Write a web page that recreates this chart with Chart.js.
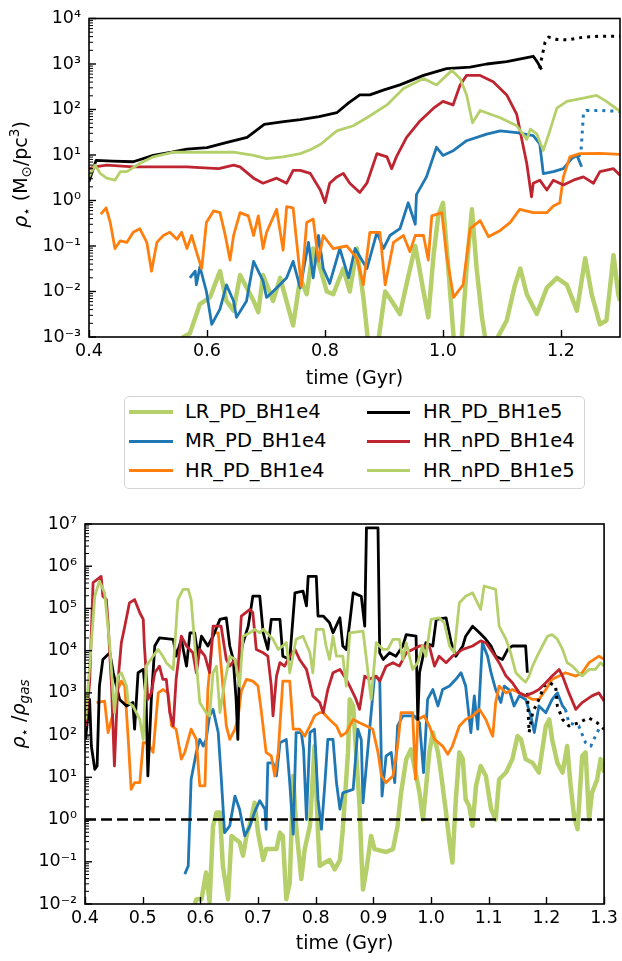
<!DOCTYPE html>
<html><head><meta charset="utf-8">
<script src="https://cdn.jsdelivr.net/npm/chart.js@4.4.0/dist/chart.umd.min.js"></script>
<style>
html,body{margin:0;padding:0;background:#fff;}
body{width:622px;height:961px;position:relative;overflow:hidden;font-family:"DejaVu Sans",sans-serif;}
#c1{position:absolute;left:0;top:0;}
#c2{position:absolute;left:0;top:500px;}
#legend{position:absolute;left:124px;top:396px;width:459px;height:91px;border:1px solid #d4d4d4;border-radius:5px;background:#fff;}
.sw{position:absolute;}
.lt{position:absolute;font-size:19.5px;line-height:24px;white-space:nowrap;color:#000;font-family:"DejaVu Sans",sans-serif;}
</style></head><body>
<canvas id="c1" width="622" height="400"></canvas>
<div id="legend"></div>
<canvas id="c2" width="622" height="461"></canvas>
<script>
// ---------------- axis ticks / labels ----------------
const topXTicks = [0.4, 0.6, 0.8, 1.0, 1.2];
const topXLabels = ['0.4', '0.6', '0.8', '1.0', '1.2'];
const topYTicks = [1e-3, 1e-2, 1e-1, 1e0, 1e1, 1e2, 1e3, 1e4];
const topYLabels = ['10⁻³', '10⁻²', '10⁻¹', '10⁰', '10¹', '10²', '10³', '10⁴'];
const botXTicks = [0.4, 0.5, 0.6, 0.7, 0.8, 0.9, 1.0, 1.1, 1.2, 1.3];
const botXLabels = ['0.4', '0.5', '0.6', '0.7', '0.8', '0.9', '1.0', '1.1', '1.2', '1.3'];
const botYTicks = [1e-2, 1e-1, 1e0, 1e1, 1e2, 1e3, 1e4, 1e5, 1e6, 1e7];
const botYLabels = ['10⁻²', '10⁻¹', '10⁰', '10¹', '10²', '10³', '10⁴', '10⁵', '10⁶', '10⁷'];
const xTitle = 'time (Gyr)';
const topYTitle = 'ρ⋆ (M⊙/pc³)';
const botYTitle = 'ρ⋆ /ρgas';

// ---------------- series names ----------------
const seriesNames = ['LR_PD_BH1e4', 'MR_PD_BH1e4', 'HR_PD_BH1e4', 'HR_PD_BH1e5', 'HR_nPD_BH1e4', 'HR_nPD_BH1e5'];

// ---------------- top panel: stellar density [time, value] ----------------
const topLR = [[0.555,0.0005],[0.560,0.001],[0.571,0.0012],[0.588,0.0053],[0.605,0.0074],[0.622,0.028],[0.633,0.0062],[0.645,0.0038],[0.656,0.023],[0.679,0.0062],[0.687,0.0035],[0.695,0.023],[0.712,0.0062],[0.724,0.020],[0.746,0.0018],[0.758,0.020],[0.769,0.0087],[0.780,0.088],[0.792,0.032],[0.803,0.010],[0.814,0.0087],[0.831,0.032],[0.842,0.010],[0.854,0.088],[0.865,0.0074],[0.871,0.0014],[0.876,0.0003],[0.888,0.0005],[0.902,0.010],[0.913,0.0062],[0.927,0.0032],[0.938,0.014],[0.953,0.10],[0.967,0.010],[0.975,0.0027],[0.984,0.063],[0.992,0.46],[1.000,0.89],[1.009,0.032],[1.018,0.001],[1.029,0.0003],[1.040,0.032],[1.049,0.64],[1.057,0.032],[1.066,0.0027],[1.074,0.0006],[1.091,0.0009],[1.108,0.0023],[1.122,0.014],[1.131,0.032],[1.142,0.0087],[1.159,0.0032],[1.176,0.012],[1.193,0.020],[1.210,0.014],[1.227,0.0038],[1.241,0.054],[1.252,0.0087],[1.266,0.0019],[1.277,0.0023],[1.289,0.063],[1.297,0.0087],[1.300,0.0062]];
const topMR = [[0.571,0.020],[0.580,0.028],[0.582,0.014],[0.588,0.035],[0.599,0.010],[0.608,0.0019],[0.622,0.0041],[0.633,0.014],[0.645,0.0062],[0.650,0.0027],[0.667,0.0062],[0.679,0.046],[0.695,0.017],[0.701,0.0074],[0.718,0.012],[0.735,0.020],[0.746,0.046],[0.758,0.012],[0.772,0.12],[0.780,0.020],[0.789,0.17],[0.797,0.032],[0.808,0.015],[0.825,0.088],[0.840,0.020],[0.851,0.088],[0.871,0.032],[0.888,0.20],[0.899,0.088],[0.910,0.17],[0.927,0.24],[0.941,0.89],[0.953,0.30],[0.955,1.35],[0.972,3.3],[0.989,14.8],[1.000,9.8],[1.018,12.6],[1.040,20.6],[1.074,28.8],[1.097,33.9],[1.125,31],[1.153,26.5],[1.164,17.5],[1.170,3.9],[1.187,4.3],[1.204,5.0],[1.218,8.3],[1.227,9.8],[1.235,5.5]];
const topMRext = [[1.230,9],[1.234,12.6],[1.238,78],[1.243,95],[1.270,95],[1.300,91]];
const topHR4 = [[0.420,0.50],[0.429,0.69],[0.436,0.33],[0.444,0.088],[0.453,0.13],[0.464,0.12],[0.475,0.20],[0.486,0.24],[0.498,0.12],[0.506,0.028],[0.515,0.12],[0.526,0.17],[0.537,0.20],[0.549,0.14],[0.557,0.20],[0.566,0.088],[0.574,0.17],[0.582,0.075],[0.591,0.032],[0.599,0.33],[0.611,0.59],[0.622,0.54],[0.631,0.17],[0.639,0.049],[0.645,0.17],[0.656,0.54],[0.670,0.46],[0.679,0.17],[0.687,0.46],[0.695,0.088],[0.701,0.20],[0.718,0.64],[0.729,0.081],[0.735,0.73],[0.746,0.69],[0.752,0.12],[0.760,0.013],[0.769,0.33],[0.780,0.39],[0.789,0.046],[0.797,0.17],[0.814,0.088],[0.837,0.10],[0.854,0.054],[0.865,0.014],[0.876,0.20],[0.893,0.20],[0.902,0.014],[0.916,0.12],[0.933,0.17],[0.944,0.075],[0.953,0.17],[0.967,0.17],[0.975,0.049],[0.981,0.46],[0.998,0.54],[1.006,0.063],[1.018,0.0074],[1.034,0.014],[1.046,0.24],[1.063,0.36],[1.077,0.16],[1.097,0.22],[1.114,0.33],[1.130,0.64],[1.153,0.54],[1.176,0.54],[1.187,0.76],[1.198,0.89],[1.204,3.3],[1.215,9.1],[1.232,10.7],[1.266,10.9],[1.300,10.3]];
const topHR5 = [[0.400,2.6],[0.412,7.6],[0.440,7.3],[0.475,7.1],[0.509,9.8],[0.540,11.5],[0.566,13.5],[0.600,14.5],[0.634,19],[0.668,24.5],[0.697,47],[0.730,54],[0.758,60],[0.790,70],[0.820,85],[0.840,140],[0.859,209],[0.876,209],[0.900,270],[0.927,347],[0.967,562],[1.006,794],[1.046,851],[1.074,1000],[1.108,1122],[1.153,1479],[1.160,1100],[1.167,759]];
const topHR5ext = [[1.164,800],[1.167,1300],[1.173,3000],[1.179,3900],[1.193,3467],[1.210,3388],[1.238,3890],[1.266,4074],[1.300,4074]];
const topNPD4 = [[0.400,5.0],[0.410,5.5],[0.430,6.0],[0.475,5.5],[0.509,5.5],[0.566,5.5],[0.588,5.3],[0.620,5.0],[0.645,6.0],[0.656,5.5],[0.679,3.1],[0.695,2.4],[0.718,3.1],[0.735,2.4],[0.746,4.6],[0.758,4.6],[0.775,3.95],[0.792,1.7],[0.800,0.9],[0.808,2.4],[0.820,3.3],[0.831,3.95],[0.842,2.4],[0.859,1.5],[0.871,2.4],[0.888,10.7],[0.905,9.1],[0.913,5.0],[0.921,9.1],[0.938,24],[0.961,56],[0.984,107],[1.000,151],[1.017,126],[1.029,347],[1.040,562],[1.063,562],[1.085,407],[1.108,209],[1.125,78],[1.133,24],[1.142,6.5],[1.150,1.2],[1.153,2.4],[1.164,2.8],[1.176,1.7],[1.187,2.8],[1.204,2.2],[1.221,2.8],[1.238,3.3],[1.255,2.4],[1.266,4.3],[1.289,5.0],[1.300,3.6]];
const topNPD5 = [[0.400,3.3],[0.410,6.0],[0.419,3.95],[0.430,3.1],[0.444,2.8],[0.453,4.3],[0.464,4.3],[0.486,6.5],[0.509,9.1],[0.543,11.5],[0.599,11.5],[0.645,11.5],[0.679,9.8],[0.701,8.3],[0.729,9.1],[0.758,10.7],[0.775,13],[0.792,17],[0.820,34],[0.848,44],[0.871,66],[0.905,126],[0.933,288],[0.967,479],[0.989,347],[1.015,724],[1.029,479],[1.040,209],[1.050,51],[1.063,95],[1.097,66],[1.125,44],[1.142,22],[1.148,37],[1.159,29],[1.170,12.6],[1.181,34],[1.193,107],[1.210,151],[1.238,178],[1.260,204],[1.277,151],[1.300,91]];

// ---------------- bottom panel: stellar / gas density [time, value] ----------------
const botLR = [[0.585,0.005],[0.593,0.013],[0.602,0.013],[0.610,0.056],[0.616,0.011],[0.622,0.71],[0.628,1.46],[0.634,1.46],[0.639,0.080],[0.648,0.013],[0.654,0.41],[0.668,0.29],[0.674,0.14],[0.680,0.41],[0.688,1.0],[0.694,2.5],[0.700,0.49],[0.709,0.11],[0.714,0.20],[0.732,0.20],[0.738,0.49],[0.743,0.41],[0.749,0.013],[0.755,0.032],[0.761,10.8],[0.766,0.71],[0.775,0.039],[0.781,0.20],[0.790,0.71],[0.798,55],[0.804,0.49],[0.807,0.080],[0.816,0.096],[0.824,0.11],[0.833,0.066],[0.842,0.11],[0.847,0.59],[0.856,39],[0.859,700],[0.865,490],[0.870,39],[0.876,2.1],[0.879,0.17],[0.882,0.022],[0.888,0.066],[0.896,0.41],[0.902,0.20],[0.922,0.17],[0.934,0.20],[0.942,0.71],[0.948,4.3],[0.957,27],[0.965,46],[0.971,18.6],[0.980,4.3],[0.986,1.0],[0.991,5.2],[0.997,39],[1.003,115],[1.012,39],[1.017,13],[1.026,1.46],[1.032,0.29],[1.037,0.096],[1.043,3.0],[1.049,39],[1.055,27],[1.060,3.0],[1.066,2.1],[1.072,0.71],[1.078,6.3],[1.086,18.6],[1.095,10.8],[1.104,1.76],[1.112,1.0],[1.118,8.9],[1.130,13],[1.141,27],[1.150,95],[1.156,79],[1.164,27],[1.176,22],[1.187,13],[1.199,165],[1.205,235],[1.210,79],[1.219,22],[1.228,13],[1.236,55],[1.242,6.3],[1.248,1.2],[1.254,0.59],[1.262,32],[1.268,39],[1.274,1.0],[1.279,4.3],[1.288,8.9],[1.294,27],[1.300,13]];
const botMR = [[0.573,0.051],[0.579,0.080],[0.584,8.9],[0.593,39],[0.599,79],[0.605,55],[0.610,79],[0.616,285],[0.622,407],[0.631,115],[0.636,10.8],[0.642,0.49],[0.651,0.71],[0.660,3.6],[0.668,1.76],[0.677,0.41],[0.686,0.71],[0.694,1.5],[0.703,2.8],[0.712,1.76],[0.714,0.59],[0.717,22],[0.726,22],[0.732,10.8],[0.738,66],[0.749,79],[0.755,7.5],[0.761,0.45],[0.766,115],[0.775,115],[0.779,46],[0.784,1.0],[0.790,115],[0.798,138],[0.804,3.0],[0.810,0.59],[0.816,7.5],[0.821,79],[0.830,79],[0.836,7.5],[0.842,1.76],[0.847,4.3],[0.865,5.2],[0.873,138],[0.879,79],[0.882,2.5],[0.893,115],[0.902,2500],[0.911,2100],[0.915,3.6],[0.922,32],[0.931,39],[0.937,7.5],[0.942,165],[0.951,285],[0.971,285],[0.980,196],[0.987,13],[0.994,700],[1.003,1200],[1.012,490],[1.020,1200],[1.032,1450],[1.043,2100],[1.052,3000],[1.060,1450],[1.069,115],[1.075,850],[1.081,138],[1.089,15400],[1.098,7400],[1.104,3000],[1.112,1200],[1.121,590],[1.127,1450],[1.135,1200],[1.144,490],[1.153,850],[1.164,700],[1.173,285],[1.179,115],[1.187,490],[1.199,340],[1.210,700],[1.219,1000],[1.228,490],[1.233,407]];
const botMRext = [[1.233,407],[1.239,196],[1.256,165],[1.268,66],[1.277,55],[1.285,95],[1.291,138],[1.300,138]];
const botHR4 = [[0.420,590],[0.434,640],[0.440,115],[0.449,340],[0.457,1200],[0.463,1900],[0.469,1450],[0.475,79],[0.480,5.2],[0.486,7.5],[0.495,7.5],[0.501,66],[0.509,66],[0.518,39],[0.527,1000],[0.535,1200],[0.544,1000],[0.550,165],[0.558,138],[0.567,27],[0.573,39],[0.584,138],[0.593,79],[0.599,6.3],[0.608,6.3],[0.613,1200],[0.622,26500],[0.631,26500],[0.639,1450],[0.645,165],[0.651,79],[0.660,138],[0.665,235],[0.671,1100],[0.680,2100],[0.691,1900],[0.700,1450],[0.706,340],[0.714,39],[0.723,32],[0.729,10.8],[0.735,39],[0.743,1900],[0.755,1900],[0.761,138],[0.772,138],[0.781,95],[0.790,165],[0.798,285],[0.807,340],[0.813,340],[0.824,235],[0.836,165],[0.844,95],[0.853,115],[0.865,235],[0.876,196],[0.888,165],[0.899,138],[0.908,39],[0.914,10.8],[0.922,7.5],[0.934,10.8],[0.942,55],[0.948,340],[0.968,340],[0.973,9],[0.977,235],[0.988,285],[0.997,165],[1.006,79],[1.020,55],[1.029,35],[1.037,55],[1.049,165],[1.060,235],[1.072,285],[1.084,407],[1.095,235],[1.104,115],[1.107,95],[1.112,590],[1.118,1450],[1.130,1000],[1.141,1200],[1.153,1000],[1.164,850],[1.176,700],[1.187,700],[1.199,1200],[1.210,2100],[1.222,2500],[1.233,3000],[1.251,2500],[1.262,3000],[1.274,5200],[1.291,7400],[1.300,6200]];
const botHR5 = [[0.401,79],[0.408,700],[0.411,55],[0.417,15.5],[0.421,18.6],[0.425,1450],[0.431,6200],[0.443,8900],[0.449,3000],[0.460,700],[0.472,490],[0.483,590],[0.486,138],[0.492,3000],[0.501,3600],[0.506,700],[0.509,10.8],[0.515,700],[0.521,12900],[0.529,20000],[0.553,18600],[0.558,7400],[0.567,18600],[0.576,4300],[0.582,26500],[0.590,26500],[0.596,7400],[0.602,22000],[0.613,12900],[0.622,22000],[0.634,55000],[0.645,60000],[0.651,12900],[0.657,6200],[0.662,700],[0.665,79],[0.668,6200],[0.674,15400],[0.683,38000],[0.691,195000],[0.703,195000],[0.709,26500],[0.717,10700],[0.723,55000],[0.738,55000],[0.743,7400],[0.755,6200],[0.764,234000],[0.778,257000],[0.784,115000],[0.787,575000],[0.801,575000],[0.804,66000],[0.813,66000],[0.824,46000],[0.830,26500],[0.842,60000],[0.847,12900],[0.853,10700],[0.859,46000],[0.865,234000],[0.879,195000],[0.885,38000],[0.888,8.1e6],[0.908,8.1e6],[0.911,8900],[0.917,6200],[0.928,8900],[0.939,7400],[0.951,12900],[0.957,24000],[0.974,22000],[0.977,235],[0.980,3000],[0.991,15400],[1.003,12900],[1.009,55000],[1.026,60000],[1.035,15400],[1.043,7400],[1.055,12900],[1.060,22000],[1.072,38000],[1.084,26500],[1.095,18600],[1.104,12900],[1.112,7400],[1.124,6200],[1.133,10700],[1.141,12900],[1.164,12900],[1.167,3000]];
const botHR5ext = [[1.167,1000],[1.170,115],[1.176,340],[1.187,700],[1.196,1450],[1.205,1740],[1.216,1450],[1.219,490],[1.228,235],[1.239,165],[1.256,196],[1.273,257],[1.288,196],[1.300,138]];
const botNPD4 = [[0.401,165],[0.408,1740],[0.414,407000],[0.428,575000],[0.431,195000],[0.437,162000],[0.440,46000],[0.446,1450],[0.451,18.6],[0.457,1740],[0.463,15400],[0.469,38000],[0.477,135000],[0.486,162000],[0.495,79000],[0.501,55000],[0.503,12900],[0.509,700],[0.515,1000],[0.521,3000],[0.529,4300],[0.535,2100],[0.541,2100],[0.547,340],[0.553,165],[0.558,2100],[0.567,22000],[0.576,12900],[0.587,8900],[0.593,3000],[0.599,10700],[0.608,7400],[0.616,3000],[0.622,38000],[0.636,38000],[0.645,6200],[0.651,4300],[0.660,6200],[0.665,2500],[0.671,66000],[0.686,95000],[0.691,79000],[0.697,10700],[0.709,8900],[0.717,7400],[0.723,1450],[0.726,285],[0.732,2500],[0.738,5200],[0.746,4300],[0.755,7400],[0.764,10700],[0.772,6200],[0.784,3600],[0.795,850],[0.807,590],[0.813,340],[0.821,1200],[0.830,3000],[0.842,3600],[0.853,2100],[0.862,1200],[0.870,700],[0.876,407],[0.885,2500],[0.893,2100],[0.905,2500],[0.911,1900],[0.922,4300],[0.934,5200],[0.945,4300],[0.957,8900],[0.968,10700],[0.980,12900],[0.997,12900],[1.006,4300],[1.014,7400],[1.026,5200],[1.037,7400],[1.055,10700],[1.072,12900],[1.086,17000],[1.095,15400],[1.107,8900],[1.118,5200],[1.130,2500],[1.141,1740],[1.153,1000],[1.164,850],[1.176,1000],[1.187,1200],[1.199,1740],[1.210,2500],[1.222,3600],[1.228,2500],[1.239,1000],[1.251,407],[1.262,590],[1.279,850],[1.291,1000],[1.300,640]];
const botNPD5 = [[0.401,235],[0.408,4300],[0.417,195000],[0.425,445000],[0.434,234000],[0.443,12900],[0.451,340],[0.457,2500],[0.463,3000],[0.472,1450],[0.475,590],[0.483,490],[0.495,235],[0.501,79],[0.506,4300],[0.518,7400],[0.527,10700],[0.535,7400],[0.541,5200],[0.553,3600],[0.561,162000],[0.570,282000],[0.579,282000],[0.584,162000],[0.590,15400],[0.599,590],[0.610,340],[0.616,285],[0.622,3000],[0.628,4300],[0.634,340],[0.642,1740],[0.651,7400],[0.660,6200],[0.668,1450],[0.674,22000],[0.686,26500],[0.694,32000],[0.703,26500],[0.709,32000],[0.726,18600],[0.735,10700],[0.743,12900],[0.749,15400],[0.755,3000],[0.766,18600],[0.778,22000],[0.790,8900],[0.795,3000],[0.801,32000],[0.813,32000],[0.818,12900],[0.824,6200],[0.830,22000],[0.836,7400],[0.847,7400],[0.853,1450],[0.859,26500],[0.882,29000],[0.888,6200],[0.896,700],[0.905,15400],[0.917,10700],[0.925,10700],[0.934,18600],[0.945,18600],[0.951,6200],[0.957,15400],[0.968,3600],[0.977,5200],[0.985,12900],[0.991,7400],[1.000,55000],[1.014,60000],[1.023,46000],[1.032,12900],[1.040,8900],[1.049,135000],[1.060,195000],[1.072,234000],[1.086,95000],[1.092,340000],[1.112,282000],[1.118,38000],[1.130,18600],[1.138,8900],[1.147,3000],[1.158,2100],[1.164,1800],[1.170,2500],[1.176,4300],[1.184,7400],[1.193,12900],[1.202,22000],[1.210,24000],[1.219,18600],[1.228,10700],[1.236,5200],[1.245,4300],[1.256,3000],[1.262,2500],[1.274,3600],[1.285,3600],[1.294,5200],[1.300,4300]];
const botUnity = [[0.4,1],[1.3,1]];

// ---------------- styling ----------------
const colGreen = '#b5d06a', colBlue = '#1f77b4', colOrange = '#ff7f0e', colBlack = '#000000', colRed = '#be2531';
const FONT = '"DejaVu Sans", sans-serif';

function pts(arr) { return arr.map(p => ({x: p[0], y: p[1]})); }
function ds(arr, color, width, order, dash) {
  return {data: pts(arr), borderColor: color, backgroundColor: color, borderWidth: width,
          pointRadius: 0, tension: 0, fill: false, order: order, clip: 0,
          borderDash: dash || [], borderCapStyle: 'butt', borderJoinStyle: 'round'};
}

// frame + inward ticks (major & log minor)
const frameTicks = {
  id: 'frameTicks',
  afterDraw(chart) {
    const {ctx, chartArea: a, scales: {x, y}} = chart;
    ctx.save();
    ctx.strokeStyle = '#000';
    ctx.lineWidth = 1.4;
    x.ticks.forEach(t => {
      const px = Math.round(x.getPixelForValue(t.value)) + 0.5;
      ctx.beginPath(); ctx.moveTo(px, a.bottom); ctx.lineTo(px, a.bottom - 7); ctx.stroke();
    });
    const e0 = Math.round(Math.log10(y.min)), e1 = Math.round(Math.log10(y.max));
    for (let e = e0; e <= e1; e++) {
      const py = y.getPixelForValue(Math.pow(10, e));
      ctx.lineWidth = 1.4;
      ctx.beginPath(); ctx.moveTo(a.left, py); ctx.lineTo(a.left + 7, py); ctx.stroke();
      if (e < e1) {
        ctx.lineWidth = 1.0;
        for (let k = 2; k <= 9; k++) {
          const pm = y.getPixelForValue(k * Math.pow(10, e));
          ctx.beginPath(); ctx.moveTo(a.left, pm); ctx.lineTo(a.left + 4, pm); ctx.stroke();
        }
      }
    }
    ctx.lineWidth = 1.6;
    ctx.strokeRect(a.left, a.top, a.right - a.left, a.bottom - a.top);
    ctx.restore();
  }
};

// rotated y title with sub/superscripts
const richYTitle = {
  id: 'richYTitle',
  afterDraw(chart, args, o) {
    if (!o || !o.segments) return;
    const ctx = chart.ctx;
    ctx.save();
    ctx.translate(o.x, o.y);
    ctx.rotate(-Math.PI / 2);
    ctx.fillStyle = '#000';
    ctx.textAlign = 'left';
    ctx.textBaseline = 'alphabetic';
    const f = s => (s.italic ? 'italic ' : '') + (s.size || 19) + 'px ' + FONT;
    let w = 0;
    o.segments.forEach(s => { ctx.font = f(s); s.w = ctx.measureText(s.text).width; w += s.w; });
    let cx = -w / 2;
    o.segments.forEach(s => { ctx.font = f(s); ctx.fillText(s.text, cx, o.base + (s.dy || 0)); cx += s.w; });
    ctx.restore();
  }
};

function makeOptions(cfg) {
  return {
    responsive: false, animation: false, devicePixelRatio: 1,
    layout: {padding: cfg.padding},
    plugins: {legend: {display: false}, tooltip: {enabled: false}, richYTitle: cfg.ytitle},
    scales: {
      x: {
        type: 'linear', min: 0.4, max: 1.3,
        grid: {display: false, drawTicks: false},
        border: {display: false},
        afterBuildTicks: s => { s.ticks = cfg.xticks.map(v => ({value: v})); },
        afterFit: s => { s.height = cfg.xh; },
        ticks: {autoSkip: false, maxRotation: 0, padding: 4, color: '#000',
                font: {family: FONT, size: 17.5},
                callback: (v, i) => cfg.xlabels[i]},
        title: {display: true, text: xTitle, color: '#000', font: {family: FONT, size: 19},
                padding: {top: 0, bottom: cfg.xtpad}}
      },
      y: {
        type: 'logarithmic', min: cfg.ymin, max: cfg.ymax,
        grid: {display: false, drawTicks: false},
        border: {display: false},
        afterBuildTicks: s => { s.ticks = cfg.yticks.map(v => ({value: v})); },
        afterFit: s => { s.width = cfg.yw; },
        ticks: {autoSkip: false, padding: 8, color: '#000',
                font: {family: FONT, size: 17.5},
                callback: (v, i) => cfg.ylabels[i]}
      }
    }
  };
}

Chart.register(frameTicks, richYTitle);

const DOTS = [3, 5];

new Chart(document.getElementById('c1'), {
  type: 'line',
  data: {datasets: [
    ds(topLR, colGreen, 4.5, 7),
    ds(topMR, colBlue, 2.8, 6),
    ds(topMRext, colBlue, 3, 6, DOTS),
    ds(topHR4, colOrange, 2.8, 5),
    ds(topHR5, colBlack, 2.8, 4),
    ds(topHR5ext, colBlack, 3, 4, DOTS),
    ds(topNPD4, colRed, 2.8, 3),
    ds(topNPD5, colGreen, 2.8, 2)
  ]},
  options: makeOptions({
    padding: {top: 12, right: 2, left: 0, bottom: 0},
    xticks: topXTicks, xlabels: topXLabels, xh: 63, xtpad: 10,
    yticks: topYTicks, ylabels: topYLabels, ymin: 1e-3, ymax: 1e4, yw: 89,
    ytitle: {x: 20, y: 174.5, base: 7, segments: [
      {text: 'ρ', italic: true}, {text: '⋆', size: 13.5, dy: 4},
      {text: ' (M'}, {text: '⊙', size: 13.5, dy: 4}, {text: '/pc'}, {text: '3', size: 13.5, dy: -8}, {text: ')'}
    ]}
  })
});

new Chart(document.getElementById('c2'), {
  type: 'line',
  data: {datasets: [
    ds(botLR, colGreen, 4.5, 7),
    ds(botMR, colBlue, 2.8, 6),
    ds(botMRext, colBlue, 3, 6, DOTS),
    ds(botHR4, colOrange, 2.8, 5),
    ds(botHR5, colBlack, 2.8, 4),
    ds(botHR5ext, colBlack, 3, 4, DOTS),
    ds(botNPD4, colRed, 2.8, 3),
    ds(botNPD5, colGreen, 2.8, 2),
    ds(botUnity, colBlack, 2.6, 1, [11, 5])
  ]},
  options: makeOptions({
    padding: {top: 24, right: 17, left: 0, bottom: 0},
    xticks: botXTicks, xlabels: botXLabels, xh: 57, xtpad: 6,
    yticks: botYTicks, ylabels: botYLabels, ymin: 1e-2, ymax: 1e7, yw: 85,
    ytitle: {x: 18, y: 214, base: 7, segments: [
      {text: 'ρ', italic: true}, {text: '⋆', size: 13.5, dy: 4},
      {text: ' /'}, {text: 'ρ', italic: true}, {text: 'gas', italic: true, size: 13.5, dy: 4}
    ]}
  })
});

// ---------------- legend ----------------
const legendColors = [colGreen, colBlue, colOrange, colBlack, colRed, colGreen];
const legendWidths = [4.5, 3, 3, 3, 3, 3];
(function buildLegend() {
  const box = document.getElementById('legend');
  const rowsY = [15, 44, 73.5];
  seriesNames.forEach((name, i) => {
    const col = i < 3 ? 0 : 1, row = i % 3;
    const sw = document.createElement('div');
    sw.className = 'sw';
    const h = legendWidths[i];
    sw.style.left = (col === 0 ? 4 : 242) + 'px';
    sw.style.width = (col === 0 ? 44 : 43) + 'px';
    sw.style.top = (rowsY[row] - h / 2) + 'px';
    sw.style.height = h + 'px';
    sw.style.background = legendColors[i];
    box.appendChild(sw);
    const t = document.createElement('div');
    t.className = 'lt';
    t.textContent = name;
    t.style.left = (col === 0 ? 60 : 298) + 'px';
    t.style.top = (rowsY[row] - 12) + 'px';
    box.appendChild(t);
  });
})();
</script>
</body></html>
